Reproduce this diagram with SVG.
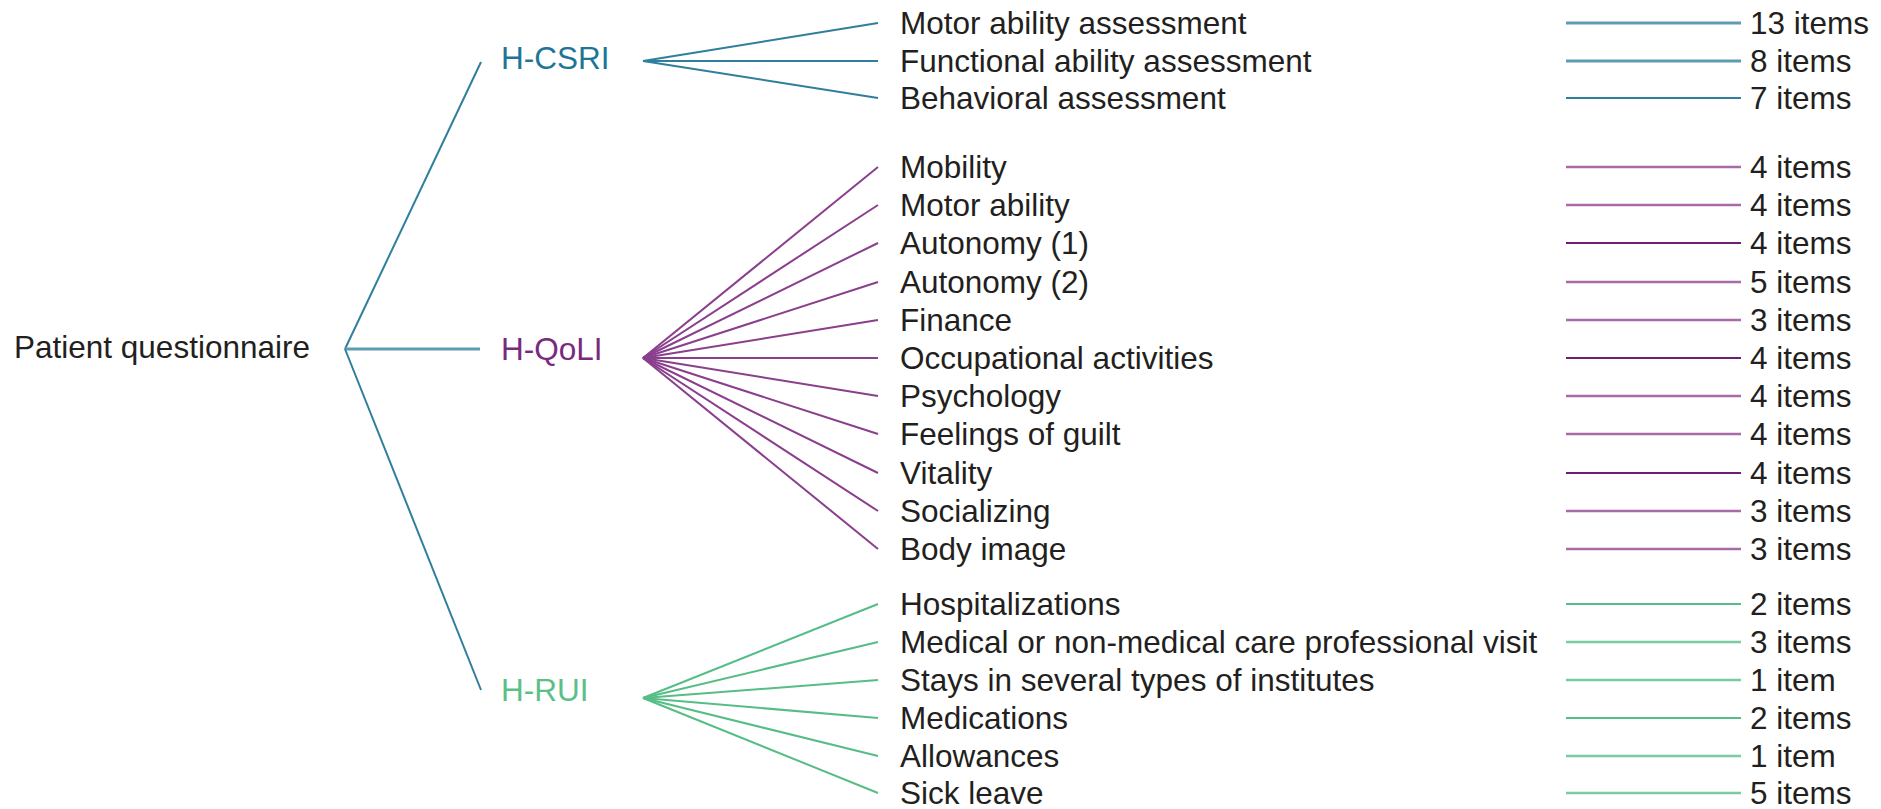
<svg xmlns="http://www.w3.org/2000/svg" width="1881" height="809" viewBox="0 0 1881 809">
<style>
text{font-family:"Liberation Sans",Arial,sans-serif;font-size:31.5px;fill:#231f20}
.n{font-size:31.5px}
.t-c{fill:#1f7597}.t-q{fill:#7a2a7d}.t-r{fill:#5cbf88}
line{stroke-width:2;fill:none}
.c{stroke:#2f7f9c}.cl{stroke:#5c9db3;stroke-width:3}
.q{stroke:#8a3f8d}.ql{stroke:#a86aa9;stroke-width:2.6}.qd{stroke:#6e1f72}
.r{stroke:#57bd86}.rl{stroke:#7acc9f;stroke-width:2.6}
</style>
<rect width="1881" height="809" fill="#ffffff"/>
<g id="connectors">
<line class="c" x1="345" y1="349" x2="481" y2="62"/>
<line class="cl" x1="345" y1="349" x2="480" y2="349"/>
<line class="c" x1="345" y1="349" x2="481" y2="690"/>
<line class="c" x1="643" y1="61" x2="878" y2="23"/>
<line class="c" x1="643" y1="61" x2="878" y2="61"/>
<line class="c" x1="643" y1="61" x2="878" y2="98"/>
<line class="q" x1="643" y1="358" x2="878" y2="167"/>
<line class="q" x1="643" y1="358" x2="878" y2="205"/>
<line class="q" x1="643" y1="358" x2="878" y2="243"/>
<line class="q" x1="643" y1="358" x2="878" y2="282"/>
<line class="q" x1="643" y1="358" x2="878" y2="320"/>
<line class="q" x1="643" y1="358" x2="878" y2="358"/>
<line class="q" x1="643" y1="358" x2="878" y2="396"/>
<line class="q" x1="643" y1="358" x2="878" y2="434"/>
<line class="q" x1="643" y1="358" x2="878" y2="473"/>
<line class="q" x1="643" y1="358" x2="878" y2="511"/>
<line class="q" x1="643" y1="358" x2="878" y2="549"/>
<line class="r" x1="643" y1="698" x2="878" y2="604"/>
<line class="r" x1="643" y1="698" x2="878" y2="642"/>
<line class="r" x1="643" y1="698" x2="878" y2="680"/>
<line class="r" x1="643" y1="698" x2="878" y2="718"/>
<line class="r" x1="643" y1="698" x2="878" y2="756"/>
<line class="r" x1="643" y1="698" x2="878" y2="793"/>
<line class="cl" x1="1566" y1="23" x2="1741" y2="23"/>
<line class="cl" x1="1566" y1="61" x2="1741" y2="61"/>
<line class="c" x1="1566" y1="98" x2="1741" y2="98"/>
<line class="ql" x1="1566" y1="167" x2="1741" y2="167"/>
<line class="ql" x1="1566" y1="205" x2="1741" y2="205"/>
<line class="qd" x1="1566" y1="243" x2="1741" y2="243"/>
<line class="ql" x1="1566" y1="282" x2="1741" y2="282"/>
<line class="ql" x1="1566" y1="320" x2="1741" y2="320"/>
<line class="qd" x1="1566" y1="358" x2="1741" y2="358"/>
<line class="ql" x1="1566" y1="396" x2="1741" y2="396"/>
<line class="ql" x1="1566" y1="434" x2="1741" y2="434"/>
<line class="qd" x1="1566" y1="473" x2="1741" y2="473"/>
<line class="ql" x1="1566" y1="511" x2="1741" y2="511"/>
<line class="ql" x1="1566" y1="549" x2="1741" y2="549"/>
<line class="r" x1="1566" y1="604" x2="1741" y2="604"/>
<line class="rl" x1="1566" y1="642" x2="1741" y2="642"/>
<line class="rl" x1="1566" y1="680" x2="1741" y2="680"/>
<line class="r" x1="1566" y1="718" x2="1741" y2="718"/>
<line class="rl" x1="1566" y1="756" x2="1741" y2="756"/>
<line class="rl" x1="1566" y1="793" x2="1741" y2="793"/>
</g>
<g id="root"><text x="14" y="358">Patient questionnaire</text></g>
<g id="h-csri"><text class="t-c" x="501" y="69">H-CSRI</text></g>
<g id="h-qoli"><text class="t-q" x="501" y="360">H-QoLI</text></g>
<g id="h-rui"><text class="t-r" x="501" y="701">H-RUI</text></g>
<g id="csri-1"><text x="900" y="34">Motor ability assessment</text><text x="1750" y="34">13 items</text></g>
<g id="csri-2"><text x="900" y="72">Functional ability assessment</text><text x="1750" y="72">8 items</text></g>
<g id="csri-3"><text x="900" y="109">Behavioral assessment</text><text x="1750" y="109">7 items</text></g>
<g id="qoli-1"><text x="900" y="178">Mobility</text><text x="1750" y="178">4 items</text></g>
<g id="qoli-2"><text x="900" y="216">Motor ability</text><text x="1750" y="216">4 items</text></g>
<g id="qoli-3"><text x="900" y="254">Autonomy (1)</text><text x="1750" y="254">4 items</text></g>
<g id="qoli-4"><text x="900" y="293">Autonomy (2)</text><text x="1750" y="293">5 items</text></g>
<g id="qoli-5"><text x="900" y="331">Finance</text><text x="1750" y="331">3 items</text></g>
<g id="qoli-6"><text x="900" y="369">Occupational activities</text><text x="1750" y="369">4 items</text></g>
<g id="qoli-7"><text x="900" y="407">Psychology</text><text x="1750" y="407">4 items</text></g>
<g id="qoli-8"><text x="900" y="445">Feelings of guilt</text><text x="1750" y="445">4 items</text></g>
<g id="qoli-9"><text x="900" y="484">Vitality</text><text x="1750" y="484">4 items</text></g>
<g id="qoli-10"><text x="900" y="522">Socializing</text><text x="1750" y="522">3 items</text></g>
<g id="qoli-11"><text x="900" y="560">Body image</text><text x="1750" y="560">3 items</text></g>
<g id="rui-1"><text x="900" y="615">Hospitalizations</text><text x="1750" y="615">2 items</text></g>
<g id="rui-2"><text x="900" y="653">Medical or non-medical care professional visit</text><text x="1750" y="653">3 items</text></g>
<g id="rui-3"><text x="900" y="691">Stays in several types of institutes</text><text x="1750" y="691">1 item</text></g>
<g id="rui-4"><text x="900" y="729">Medications</text><text x="1750" y="729">2 items</text></g>
<g id="rui-5"><text x="900" y="767">Allowances</text><text x="1750" y="767">1 item</text></g>
<g id="rui-6"><text x="900" y="804">Sick leave</text><text x="1750" y="804">5 items</text></g>
</svg>
